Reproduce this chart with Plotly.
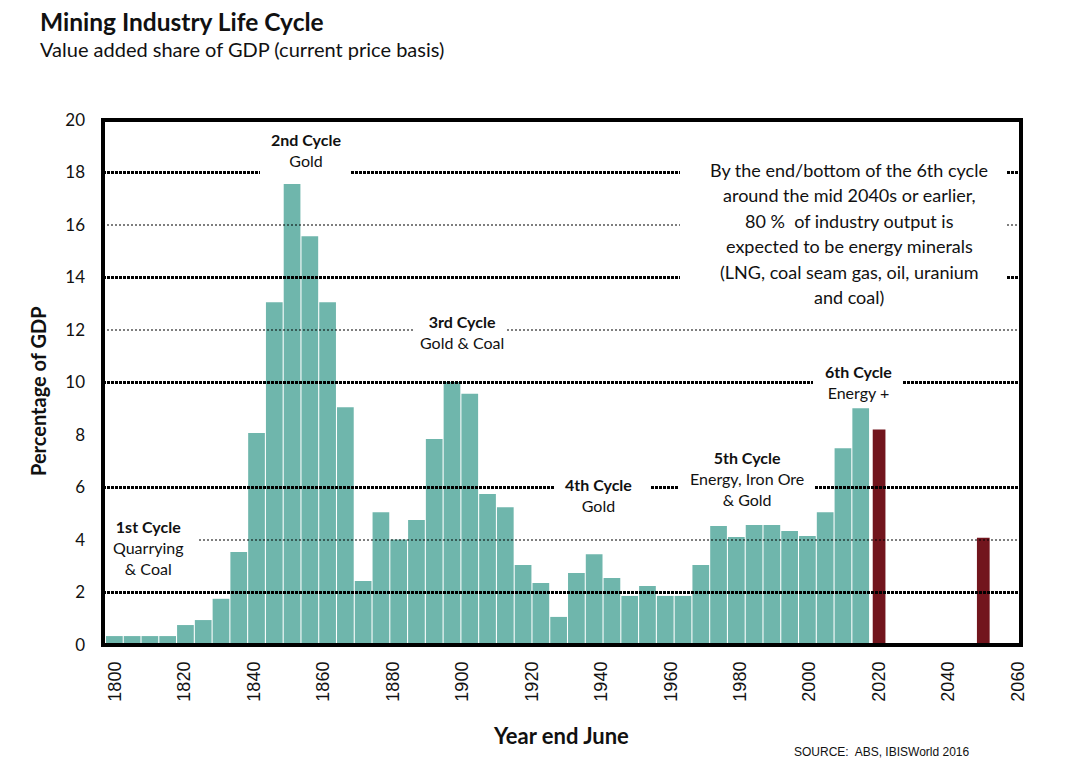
import plotly.graph_objects as go

# teal bars: historical share, one bar every 5 years
years = ["1800", "1805", "1810", "1815", "1820", "1825", "1830", "1835", "1840", "1845",
         "1850", "1855", "1860", "1865", "1870", "1875", "1880", "1885", "1890", "1895",
         "1900", "1905", "1910", "1915", "1920", "1925", "1930", "1935", "1940", "1945",
         "1950", "1955", "1960", "1965", "1970", "1975", "1980", "1985", "1990", "1995",
         "2000", "2005", "2010"]
share = [0.34, 0.34, 0.34, 0.34, 0.76, 0.95, 1.76, 3.54, 8.08, 13.06,
         17.56, 15.57, 13.06, 9.06, 2.44, 5.06, 4.02, 4.76, 7.85, 10.02,
         9.57, 5.75, 5.25, 3.05, 2.36, 1.07, 2.74, 3.46, 2.55, 1.87,
         2.25, 1.87, 1.87, 3.05, 4.53, 4.11, 4.57, 4.57, 4.34, 4.15,
         5.06, 7.5, 9.02]

# dark red bars: projections
fc_years = [2020, 2050]
fc_share = [8.21, 4.09]

x_ticks = [1800, 1820, 1840, 1860, 1880, 1900, 1920, 1940, 1960, 1980, 2000, 2020, 2040, 2060]
y_ticks = [0, 2, 4, 6, 8, 10, 12, 14, 16, 18, 20]
thick_levels = [2, 6, 10, 14, 18]
thin_levels = [4, 12, 16]

note_lines = ["By the end/bottom of the 6th cycle",
              "around the mid 2040s or earlier,",
              "80 %  of industry output is",
              "expected to be energy minerals",
              "(LNG, coal seam gas, oil, uranium",
              "and coal)"]

TEAL = "#6FB6AC"
RED = "#72151D"
INK = "#111111"
FONT = "Lato, Open Sans, sans-serif"

# page has an 8px body margin; positions below are screen pixels
OFF = 8
FIG_W, FIG_H = 1070 - 2 * OFF, 770 - 2 * OFF
L, R, T, B = 103, 1021, 120, 645
W, H = R - L, B - T


def px(xp):
    return (xp - L) / W


def py(yp):
    return (B - yp) / H


def val(yp):
    return (B - yp) / (H / 20)


fig = go.Figure()

fig.add_trace(go.Bar(
    x=years, y=share, xaxis="x2", width=0.94,
    marker=dict(color=TEAL, line=dict(width=0)),
    showlegend=False, hoverinfo="x+y"
))
fig.add_trace(go.Bar(
    x=fc_years, y=fc_share, width=3.66,
    marker=dict(color=RED, line=dict(width=0)),
    showlegend=False, hoverinfo="x+y"
))

shapes = []
for lv in thick_levels:
    shapes.append(dict(type="line", xref="paper", yref="y", x0=0, x1=1, y0=lv, y1=lv,
                       line=dict(color="black", width=3, dash="3px,1px"), layer="above"))
for lv in thin_levels:
    shapes.append(dict(type="line", xref="paper", yref="y", x0=0, x1=1, y0=lv, y1=lv,
                       line=dict(color="black", width=1.2, dash="2px,2px"), layer="above"))

# white boxes behind the labels (pixel boxes: x0, x1, top, bottom)
masks = [(107, 198, 515, 580), (260, 351, 124, 177), (414, 507, 310, 352),
         (554, 650, 474, 516), (678, 815, 446, 510), (813, 902, 361, 403),
         (680, 1007, 155, 312)]
for x0, x1, top, bot in masks:
    shapes.append(dict(type="rect", xref="paper", yref="y", x0=px(x0), x1=px(x1),
                       y0=val(bot), y1=val(top), fillcolor="white",
                       line=dict(width=0), layer="above"))

# frame
shapes.append(dict(type="rect", xref="paper", yref="paper", x0=0, x1=1, y0=0, y1=1,
                   line=dict(color="black", width=4), fillcolor="rgba(0,0,0,0)", layer="above"))

labels = [
    (148, 547, "<b>1st Cycle</b><br>Quarrying<br>& Coal"),
    (306, 149.5, "<b>2nd Cycle</b><br>Gold"),
    (462, 332, "<b>3rd Cycle</b><br>Gold & Coal"),
    (598, 494.5, "<b>4th Cycle</b><br>Gold"),
    (747, 478, "<b>5th Cycle</b><br>Energy, Iron Ore<br>& Gold"),
    (858, 382, "<b>6th Cycle</b><br>Energy +"),
]
annotations = []
for x, y, t in labels:
    annotations.append(dict(x=px(x), y=py(y), xref="paper", yref="paper", text=t,
                            showarrow=False, align="center", xanchor="center", yanchor="middle",
                            font=dict(family=FONT, size=16, color=INK)))

for i, line in enumerate(note_lines):
    annotations.append(dict(
        x=px(849), y=py(170 + 25.4 * i), xref="paper", yref="paper", showarrow=False,
        text=line, xanchor="center", yanchor="middle",
        font=dict(family=FONT, size=18, color=INK)))

annotations += [
    dict(x=px(38), y=py(22), xref="paper", yref="paper", showarrow=False, xanchor="left",
         yanchor="middle", text="<b>Mining Industry Life Cycle</b>",
         font=dict(family=FONT, size=24.5, color=INK)),
    dict(x=px(38), y=py(49), xref="paper", yref="paper", showarrow=False, xanchor="left",
         yanchor="middle", text="Value added share of GDP (current price basis)",
         font=dict(family=FONT, size=20, color=INK)),
    dict(x=px(38), y=py(391), xref="paper", yref="paper", showarrow=False, textangle=-90,
         xanchor="center", yanchor="middle", text="<b>Percentage of GDP</b>",
         font=dict(family=FONT, size=20, color=INK)),
    dict(x=px(561), y=py(735), xref="paper", yref="paper", showarrow=False,
         xanchor="center", yanchor="middle", text="<b>Year end June</b>",
         font=dict(family=FONT, size=22, color=INK)),
    dict(x=px(972), y=py(752), xref="paper", yref="paper", showarrow=False,
         xanchor="right", yanchor="middle", text="SOURCE:  ABS, IBISWorld 2016",
         font=dict(family="Liberation Sans, Arial", size=12, color=INK)),
]

fig.update_layout(
    width=FIG_W, height=FIG_H,
    margin=dict(l=L - OFF, r=FIG_W + OFF - R, t=T - OFF, b=FIG_H + OFF - B),
    paper_bgcolor="white", plot_bgcolor="white",
    barmode="overlay", showlegend=False,
    xaxis=dict(range=[1796.55, 2060.86], tickvals=x_ticks, tickangle=-90, ticks="",
               ticklabelstandoff=12, showgrid=False, zeroline=False, showline=False,
               tickfont=dict(family="Liberation Sans, Arial", size=18, color=INK)),
    xaxis2=dict(type="category", overlaying="x", range=[-0.639, 51.02], visible=False),
    yaxis=dict(range=[0, 20], tickvals=y_ticks, ticks="", ticklabelstandoff=17,
               showgrid=False, zeroline=False, showline=False,
               tickfont=dict(family=FONT, size=17, color=INK)),
    shapes=shapes, annotations=annotations,
)

fig.write_html("out.html")
